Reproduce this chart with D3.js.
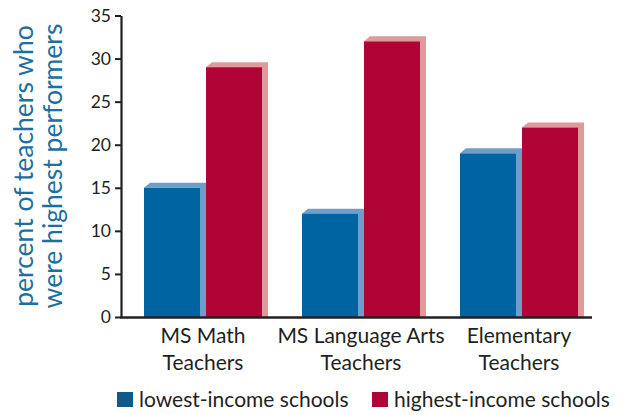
<!DOCTYPE html>
<html>
<head>
<meta charset="utf-8">
<script src="https://cdn.jsdelivr.net/npm/d3@7"></script>
<style>
  html, body { margin: 0; padding: 0; background: #fff; }
  svg { display: block; }
  text { font-family: Lato, "Noto Sans", sans-serif; }
</style>
</head>
<body>
<svg id="chart" width="634" height="415"></svg>
<script>
// Share of teachers who were highest performers, by school income level
const categories = [["MS Math", "Teachers"], ["MS Language Arts", "Teachers"], ["Elementary", "Teachers"]];
const lowestIncome = [15, 12, 19];
const highestIncome = [29, 32, 22];
const yTicks = [0, 5, 10, 15, 20, 25, 30, 35];
const seriesNames = ["lowest-income schools", "highest-income schools"];

const svg = d3.select("#chart");

const axisLeft = 121, axisRight = 592, baseY = 317, topY = 15.5;
const barW = 56, depthX = 6, depthY = 5;

const colors = {
  low: { front: "#0064a3", side: "#6f9ecb", legend: "#0f5a8c" },
  high: { front: "#b00436", side: "#e09a9b", legend: "#b00436" }
};

const keys = categories.map(c => c.join(" "));
const x = d3.scaleBand()
  .domain(keys)
  .range([axisLeft, axisRight])
  .paddingInner(0.2152)
  .paddingOuter(0.0981)
  .align(0.742);

const y = d3.scaleLinear().domain([0, 35]).range([baseY, topY]);

// 3D-looking bar: front rectangle, lighter top and right faces
function drawBar(g, x0, v, c) {
  const yt = y(v);
  g.append("path")
    .attr("d", `M${x0},${yt} L${x0 + depthX},${yt - depthY} L${x0 + barW + depthX},${yt - depthY} L${x0 + barW + depthX},${baseY} L${x0 + barW},${baseY} L${x0 + barW},${yt} Z`)
    .attr("fill", c.side);
  g.append("rect")
    .attr("x", x0).attr("y", yt)
    .attr("width", barW).attr("height", baseY - yt)
    .attr("fill", c.front);
}

const bars = svg.append("g");
keys.forEach((k, i) => {
  const gx = x(k);
  drawBar(bars, gx, lowestIncome[i], colors.low);
  drawBar(bars, gx + barW + depthX, highestIncome[i], colors.high);
});

// Y axis
const yAxis = d3.axisLeft(y).tickValues(yTicks).tickSize(6).tickPadding(4).tickSizeOuter(0);
const ga = svg.append("g").attr("transform", `translate(${axisLeft},0)`).call(yAxis);
ga.select(".domain").attr("stroke", "#231f20").attr("stroke-width", 2.2);
ga.selectAll(".tick line").attr("stroke", "#231f20").attr("stroke-width", 2);
ga.selectAll(".tick text")
  .attr("fill", "#231f20")
  .style("font-size", "17.5px")
  .style("font-family", "Lato, sans-serif");

// X axis baseline
svg.append("line")
  .attr("x1", axisLeft - 1).attr("x2", axisRight)
  .attr("y1", baseY + 0.5).attr("y2", baseY + 0.5)
  .attr("stroke", "#231f20").attr("stroke-width", 2.4);

// Category labels
const labels = svg.append("g").attr("fill", "#231f20").style("font-size", "21px");
keys.forEach((k, i) => {
  const cx = x(k) + barW + depthX / 2;
  categories[i].forEach((line, j) => {
    labels.append("text")
      .attr("x", cx).attr("y", 343 + j * 27)
      .attr("text-anchor", "middle")
      .text(line);
  });
});

// Y axis title
const title = svg.append("g")
  .attr("transform", "translate(0,166) rotate(-90)")
  .attr("fill", "#1d6f9e")
  .style("font-size", "26.5px");
title.append("text").attr("x", 0).attr("y", 33).attr("text-anchor", "middle").text("percent of teachers who");
title.append("text").attr("x", 0).attr("y", 62).attr("text-anchor", "middle").text("were highest performers");

// Legend
const legendItems = [
  { name: seriesNames[0], color: colors.low.legend, x: 117 },
  { name: seriesNames[1], color: colors.high.legend, x: 372 }
];
const lg = svg.append("g");
legendItems.forEach(d => {
  lg.append("rect").attr("x", d.x).attr("y", 392).attr("width", 16).attr("height", 15).attr("fill", d.color);
  lg.append("text").attr("x", d.x + 22).attr("y", 407)
    .attr("fill", "#231f20").style("font-size", "21px").text(d.name);
});
</script>
</body>
</html>
